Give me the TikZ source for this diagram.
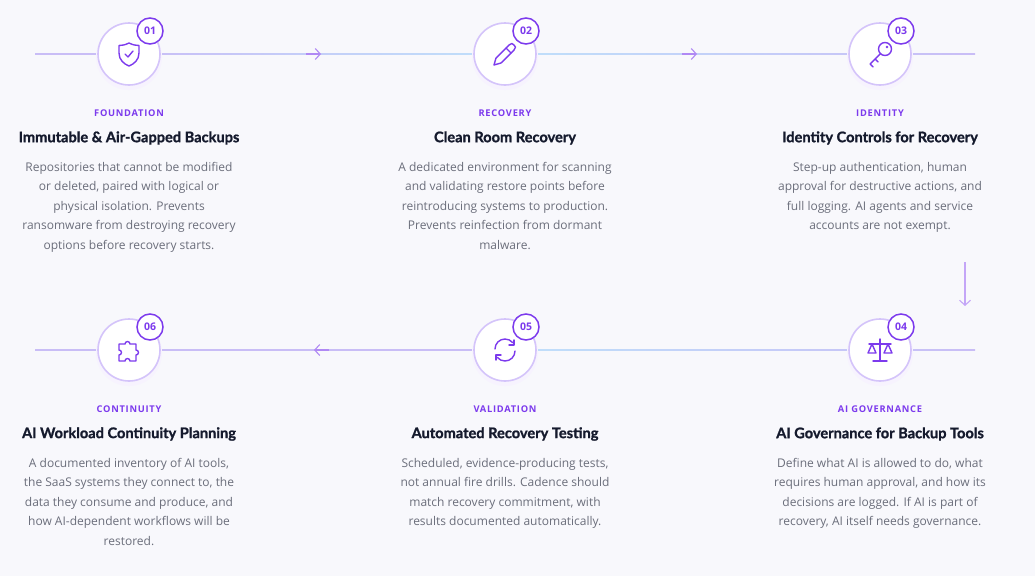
\documentclass[tikz,border=0pt]{standalone}
\usepackage{fontspec}
\setmainfont{Open Sans}
\newfontfamily\titlef{Lato}[BoldFeatures={FakeBold=1.2}]
\newfontfamily\catf{Open Sans}
\usetikzlibrary{arrows.meta,calc}
\definecolor{bg}{HTML}{F8F8FC}
\definecolor{pur}{HTML}{7C3AED}
\definecolor{ring}{HTML}{D4C4FA}
\definecolor{linec}{HTML}{C9BDF6}
\definecolor{blu}{HTML}{BFE0FA}
\definecolor{ttl}{HTML}{151A2D}
\definecolor{bod}{HTML}{6B6E7B}
\tikzset{
 circ/.style={circle,draw=ring,line width=1.6pt,fill=white,minimum size=62pt,inner sep=0pt},
 badge/.style={circle,draw=pur,line width=1.5pt,fill=white,minimum size=26pt,inner sep=0pt,font=\catf\bfseries\fontsize{10.5}{12}\selectfont,text=pur},
 cat/.style={font=\catf\bfseries\fontsize{9.3}{10}\selectfont,text=pur},
 ttlst/.style={font=\titlef\bfseries\fontsize{14.6}{16}\selectfont,text=ttl},
 body/.style={font=\fontsize{12}{19.5}\selectfont,text=bod,align=center,anchor=north},
 ico/.style={draw=pur,line width=1.4pt,line cap=round,line join=round},
 conn/.style={draw=linec,line width=1.2pt},
 arr/.style={draw=pur!60,line width=1.1pt,-{Straight Barb[length=5pt,width=11pt]}},
}
\begin{document}
\begin{tikzpicture}[x=1pt,y=-1pt]
\fill[bg] (0,0) rectangle (1035,576);
\useasboundingbox (0,0) rectangle (1035,576);
\coordinate (l1a) at (35,54); \coordinate (l1b) at (975,54);
\coordinate (l2a) at (35,350); \coordinate (l2b) at (975,350);
\draw[conn] (l1a) -- (129,54);
\shade[left color=linec,right color=blu] (129,53.4) rectangle (505,54.6);
\shade[left color=blu,right color=linec] (505,53.4) rectangle (975,54.6);
\draw[conn] (l2a) -- (505,350);
\shade[left color=blu,right color=linec] (505,349.4) rectangle (975,350.6);
\coordinate (a1) at (306,54); \coordinate (a1e) at (321,54);
\coordinate (a2) at (682,54); \coordinate (a2e) at (697,54);
\coordinate (a3) at (329,350); \coordinate (a3e) at (314,350);
\coordinate (d1) at (965,262); \coordinate (d1e) at (965,306);
\draw[arr] (a1) -- (a1e);
\draw[arr] (a2) -- (a2e);
\draw[arr] (a3) -- (a3e);
\draw[arr,draw=pur!45] (d1) -- (d1e);
\foreach \n/\x/\y/\b in {c1/129/54/01,c2/505/54/02,c3/880/54/03,c4/880/350/04,c5/505/350/05,c6/129/350/06}{
 \fill[pur!6] (\x,\y+3) circle (33);
 \node[circ] (\n) at (\x,\y) {};
 \node[badge] (\n b) at (\x+21,\y-23) {\b};
}
\begin{scope}[shift={(c1.center)},yscale=-1]
\draw[ico] (0,11) .. controls (4,9) and (7,8.5) .. (10,8.5) -- (10,1) .. controls (10,-6) and (5,-10) .. (0,-12) .. controls (-5,-10) and (-10,-6) .. (-10,1) -- (-10,8.5) .. controls (-7,8.5) and (-4,9) .. cycle;
\draw[ico] (-4,0) -- (-1,-3) -- (4,3);
\end{scope}
\begin{scope}[shift={(c2.center)},yscale=-1]
\draw[ico] (-11,-11) -- (-9,-4) -- (4,9) .. controls (6,11) and (8,11) .. (9,9) -- (9,9) .. controls (11,8) and (11,6) .. (9,4) -- (-4,-9) -- cycle;
\draw[ico] (1,6) -- (6,1);
\end{scope}
\begin{scope}[shift={(c3.center)},yscale=-1]
\draw[ico] (5,5) circle (6.5);
\fill[pur] (7,7) circle (1.3);
\draw[ico] (0.5,0.5) -- (-10,-10) -- (-7,-13) (-5,-5) -- (-2,-8);
\end{scope}
\begin{scope}[shift={(c4.center)},yscale=-1]
\draw[ico] (0,11) -- (0,-11) (-7,-11) -- (7,-11) (-11,6) -- (11,6);
\draw[ico] (-8,6) -- (-12,-3) -- (-4,-3) -- cycle;
\draw[ico] (8,6) -- (4,-3) -- (12,-3) -- cycle;
\end{scope}
\begin{scope}[shift={(c5.center)},yscale=-1]
\draw[ico] (-10,1) arc[start angle=180,end angle=40,radius=10];
\draw[ico] (10,-1) arc[start angle=0,end angle=-140,radius=10];
\draw[ico] (9,10) -- (9,5) -- (4,5);
\draw[ico] (-9,-10) -- (-9,-5) -- (-4,-5);
\end{scope}
\begin{scope}[shift={(c6.center)},yscale=-1]
\draw[ico] (-10,6) -- (-4,6) arc[start angle=180,end angle=0,radius=2.5] -- (7,6) -- (7,0) arc[start angle=90,end angle=-90,radius=2.5] -- (7,-11) -- (1,-11) arc[start angle=0,end angle=180,radius=2.5] -- (-10,-11) -- (-10,-5) arc[start angle=-90,end angle=90,radius=2.5] -- cycle;
\end{scope}
\foreach \n/\x/\y/\c/\t in {c1/129/113/FOUNDATION/Immutable \& Air-Gapped Backups,c2/505/113/RECOVERY/Clean Room Recovery,c3/880/113/IDENTITY/Identity Controls for Recovery,c4/880/409/AI GOVERNANCE/AI Governance for Backup Tools,c5/505/409/VALIDATION/Automated Recovery Testing,c6/129/409/CONTINUITY/AI Workload Continuity Planning}{
 \node[cat] (\n cat) at (\x,\y) {\addfontfeature{LetterSpace=8}\c};
 \node[ttlst] (\n t) at (\x,\y+25) {\t};
}
\node[body] (c1d) at (129,158.5) {Repositories that cannot be modified\\or deleted, paired with logical or\\physical isolation. Prevents\\ransomware from destroying recovery\\options before recovery starts.};
\node[body] (c2d) at (505,158.5) {A dedicated environment for scanning\\and validating restore points before\\reintroducing systems to production.\\Prevents reinfection from dormant\\malware.};
\node[body] (c3d) at (880,158.5) {Step-up authentication, human\\approval for destructive actions, and\\full logging. AI agents and service\\accounts are not exempt.};
\node[body] (c4d) at (880,454.5) {Define what AI is allowed to do, what\\requires human approval, and how its\\decisions are logged. If AI is part of\\recovery, AI itself needs governance.};
\node[body] (c5d) at (505,454.5) {Scheduled, evidence-producing tests,\\not annual fire drills. Cadence should\\match recovery commitment, with\\results documented automatically.};
\node[body] (c6d) at (129,454.5) {A documented inventory of AI tools,\\the SaaS systems they connect to, the\\data they consume and produce, and\\how AI-dependent workflows will be\\restored.};
\end{tikzpicture}
\end{document}
